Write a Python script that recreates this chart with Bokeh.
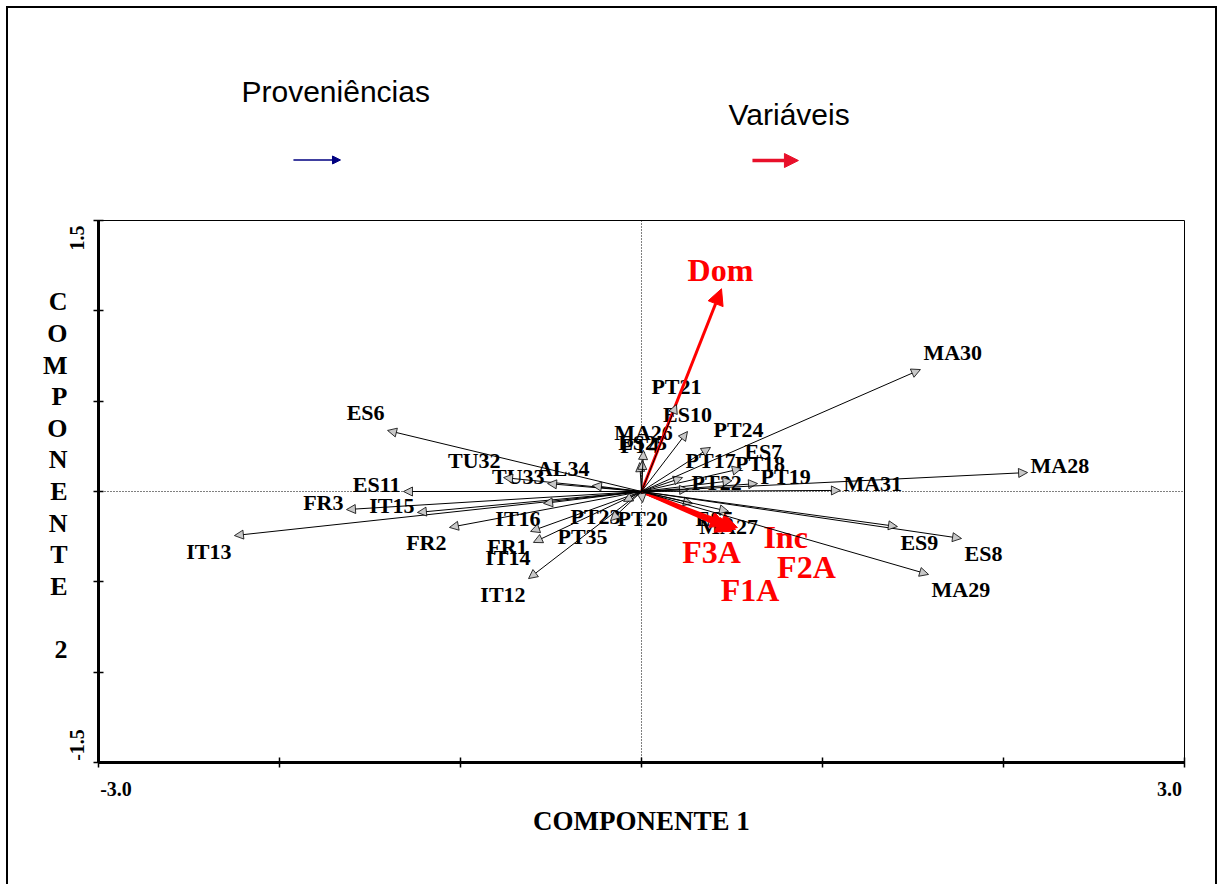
import numpy as np
from bokeh.plotting import figure
from bokeh.layouts import column
from bokeh.models import (ColumnDataSource, Arrow, NormalHead, Span, Label,
                          FixedTicker, Range1d)
from bokeh.embed import file_html
from bokeh.resources import INLINE
from bokeh.core.properties import value

# ---------------- data ----------------
prov_names = ["FR1", "FR2", "FR3", "PT4", "ES5", "ES6", "ES7", "ES8", "ES9", "ES10",
              "ES11", "IT12", "IT13", "IT14", "IT15", "IT16", "PT17", "PT18", "PT19",
              "PT20", "PT21", "PT22", "PT23", "PT24", "ES25", "MA26", "MA27", "MA28",
              "MA29", "MA30", "MA31", "TU32", "TU33", "AL34", "PT35"]
prov_x = [-0.613, -1.061, -1.630, -0.010, 0.282, -1.403, 0.552, 1.768, 1.414, 0.254,
          -1.315, -0.624, -2.249, -0.597, -1.238, -0.541, 0.227, 0.500, 0.641,
          0.006, 0.193, 0.260, -0.099, 0.381, 0.006, 0.011, 0.481, 2.133,
          1.586, 1.541, 1.099, -0.762, -0.519, -0.271, -0.171]
prov_y = [-0.221, -0.199, -0.100, 0.160, -0.066, 0.338, 0.127, -0.260, -0.194, 0.332,
          0.000, -0.482, -0.244, -0.282, -0.116, -0.066, 0.077, 0.060, 0.044,
          -0.061, 0.482, 0.011, -0.055, 0.244, 0.172, 0.227, -0.110, 0.105,
          -0.459, 0.675, 0.006, 0.077, 0.044, 0.033, -0.161]

var_names = ["Dom", "Inc", "F1A", "F2A", "F3A"]
var_x = [0.442, 0.520, 0.500, 0.530, 0.470]
var_y = [1.122, -0.210, -0.220, -0.200, -0.190]

x_ticks = [-3, -2, -1, 0, 1, 2, 3]
y_ticks = [-1.5, -1, -0.5, 0, 0.5, 1, 1.5]
x_tick_text = {-3: "-3.0", 3: "3.0"}
y_tick_text = {-1.5: "-1.5", 1.5: "1.5"}

x_title = "COMPONENTE 1"
y_title = "COMPONENTE 2"
legend_prov = "Proveniências"
legend_var = "Variáveis"

# ---------------- layout / style constants ----------------
SERIF = "Liberation Serif"
SANS = "Liberation Sans"
W = 1220
TOP_H = 190
MAIN_H = 694
BL, BR, BT, BB = 98, 36, 30, 122          # main frame borders (px)
PX_PER_UNIT = (MAIN_H - BT - BB) / (y_ticks[-1] - y_ticks[0])
NB = "\u00a0"

# label offsets (screen px) for the variable names
var_label_dx = [-1, 50, 18, 69, -15]
var_label_dy = [-19, 8, 59, 39, 26]
# provenance labels whose placement differs from the direction rule
label_align_override = {"MA27": "center"}

# ---------------- legend strip (above plot) ----------------
y_lo = y_ticks[-1] + BT / PX_PER_UNIT
y_hi = y_ticks[-1] + (BT + TOP_H) / PX_PER_UNIT
top = figure(width=W, height=TOP_H, output_backend="svg", toolbar_location=None,
             x_range=Range1d(x_ticks[0], x_ticks[-1]), y_range=Range1d(y_lo, y_hi),
             x_axis_type=None, y_axis_type=None,
             min_border_left=BL, min_border_right=BR, min_border_top=0, min_border_bottom=0)
top.grid.visible = False
top.outline_line_color = None
top.background_fill_color = None
top.border_fill_color = None

top.add_layout(Label(x=-2.210, y=2.214, text=legend_prov, text_font=SANS,
                     text_font_size="30px", text_align="left", text_baseline="alphabetic",
                     text_color="black"))
top.add_layout(Label(x=0.481, y=2.086, text=legend_var, text_font=SANS,
                     text_font_size="30px", text_align="left", text_baseline="alphabetic",
                     text_color="black"))
top.add_layout(Arrow(x_start=-1.923, y_start=1.835, x_end=-1.663, y_end=1.835,
                     line_color="#000080", line_width=1.5,
                     end=NormalHead(size=8, fill_color="#000080", line_color="#000080")))
top.add_layout(Arrow(x_start=0.613, y_start=1.832, x_end=0.867, y_end=1.832,
                     line_color="#e8102a", line_width=3.5,
                     end=NormalHead(size=14, fill_color="#e8102a", line_color="#e8102a")))

# ---------------- main biplot ----------------
p = figure(width=W, height=MAIN_H, output_backend="svg", toolbar_location=None,
           x_range=Range1d(x_ticks[0], x_ticks[-1]), y_range=Range1d(y_ticks[0], y_ticks[-1]),
           min_border_left=BL, min_border_right=BR,
           min_border_top=BT, min_border_bottom=BB)
p.grid.visible = False
p.outline_line_color = "black"
p.outline_line_width = 1
p.background_fill_color = "white"
p.border_fill_color = None

for ax in (p.xaxis[0], p.yaxis[0]):
    ax.axis_line_width = 3
    ax.axis_line_color = "black"
    ax.major_tick_in = 5
    ax.major_tick_out = 5
    ax.major_tick_line_width = 1.5
    ax.minor_tick_line_color = None
    ax.major_label_text_font = SERIF
    ax.major_label_text_font_style = "bold"
    ax.major_label_text_font_size = "20px"
    ax.major_label_text_color = "black"

p.xaxis.ticker = FixedTicker(ticks=x_ticks)
p.yaxis.ticker = FixedTicker(ticks=y_ticks)
# end labels sit inside the tick range (padding shifts the centred text inward)
xo = {}
for t in x_ticks:
    s = x_tick_text.get(t, "")
    if s and t == x_ticks[0]:
        s = NB * 7 + s
    elif s and t == x_ticks[-1]:
        s = s + NB * 6
    xo[t] = s
yo = {}
for t in y_ticks:
    s = y_tick_text.get(t, "")
    if s and t == y_ticks[0]:
        s = NB * 7 + s
    elif s and t == y_ticks[-1]:
        s = s + NB * 7
    yo[t] = s
p.xaxis.major_label_overrides = xo
p.yaxis.major_label_overrides = yo
p.yaxis.major_label_orientation = "vertical"
p.xaxis.major_label_standoff = 10
p.yaxis.major_label_standoff = 6

p.xaxis.axis_label = x_title
p.xaxis.axis_label_text_font = SERIF
p.xaxis.axis_label_text_font_style = "bold"
p.xaxis.axis_label_text_font_size = "27px"
p.xaxis.axis_label_text_color = "black"
p.xaxis.axis_label_standoff = 3

ya = p.yaxis[0]
ya.axis_label_text_font = SERIF
ya.axis_label_text_font_style = "bold"
ya.axis_label_text_font_size = "26px"
ya.axis_label_text_color = "black"
if "axis_label_orientation" in ya.properties():
    word, num = y_title.split(" ")
    ya.axis_label = "\n".join(list(word) + ["", num, NB])
    ya.axis_label_orientation = "horizontal"
    ya.axis_label_text_line_height = 1.09
    ya.axis_label_standoff = -5
else:
    ya.axis_label = y_title

# reference lines through the origin
p.add_layout(Span(location=0, dimension="height", line_color="black",
                  line_width=1, line_dash="1 2"))
p.add_layout(Span(location=0, dimension="width", line_color="black",
                  line_width=1, line_dash="1 2"))

# variable arrows (red)
vsrc = ColumnDataSource(dict(x0=[0] * len(var_x), y0=[0] * len(var_y), x1=var_x, y1=var_y))
p.add_layout(Arrow(x_start="x0", y_start="y0", x_end="x1", y_end="y1", source=vsrc,
                   line_color="#ff0000", line_width=3,
                   end=NormalHead(size=16, fill_color="#ff0000", line_color="#ff0000",
                                  line_width=1)))

# provenance arrows (black, grey heads)
psrc = ColumnDataSource(dict(x0=[0] * len(prov_x), y0=[0] * len(prov_y), x1=prov_x, y1=prov_y))
p.add_layout(Arrow(x_start="x0", y_start="y0", x_end="x1", y_end="y1", source=psrc,
                   line_color="black", line_width=1,
                   end=NormalHead(size=9, fill_color="#c8c8c8", line_color="black",
                                  line_width=0.8)))

# provenance labels, placed by arrow direction
groups = {}
for n, x, y in zip(prov_names, prov_x, prov_y):
    if abs(y) > abs(x) or label_align_override.get(n) == "center":
        align, xoff = "center", 0
    elif x > 0:
        align, xoff = "left", 3
    else:
        align, xoff = "right", -3
    if align != "center" and abs(y) < 0.097 * abs(x):
        base, yoff = "middle", -7
    elif y > 0:
        base, yoff = "bottom", -5
    else:
        base, yoff = "top", 3
    g = groups.setdefault((align, base), dict(x=[], y=[], t=[], xo=[], yo=[]))
    g["x"].append(x); g["y"].append(y); g["t"].append(n)
    g["xo"].append(xoff); g["yo"].append(yoff)

for (align, base), g in groups.items():
    p.text(x="x", y="y", text="t", x_offset="xo", y_offset="yo",
           source=ColumnDataSource(g), text_align=align, text_baseline=base,
           text_font=value(SERIF), text_font_style="bold", text_font_size="22px",
           text_color="black")

# variable labels
p.text(x="x", y="y", text="t", x_offset="xo", y_offset="yo",
       source=ColumnDataSource(dict(x=var_x, y=var_y, t=var_names,
                                    xo=var_label_dx, yo=var_label_dy)),
       text_align="center", text_baseline="middle", text_font=value(SERIF),
       text_font_style="bold", text_font_size="32px", text_color="#ff0000")

frame_css = ("linear-gradient(#000,#000) 6px 6px / 2px 1000px no-repeat, "
             "linear-gradient(#000,#000) 6px 6px / 1211px 2px no-repeat, "
             "linear-gradient(#000,#000) 1215px 6px / 2px 1000px no-repeat, white")
layout = column(top, p, spacing=0, styles={"background": frame_css})

open("out.html", "w").write(file_html(layout, INLINE))
